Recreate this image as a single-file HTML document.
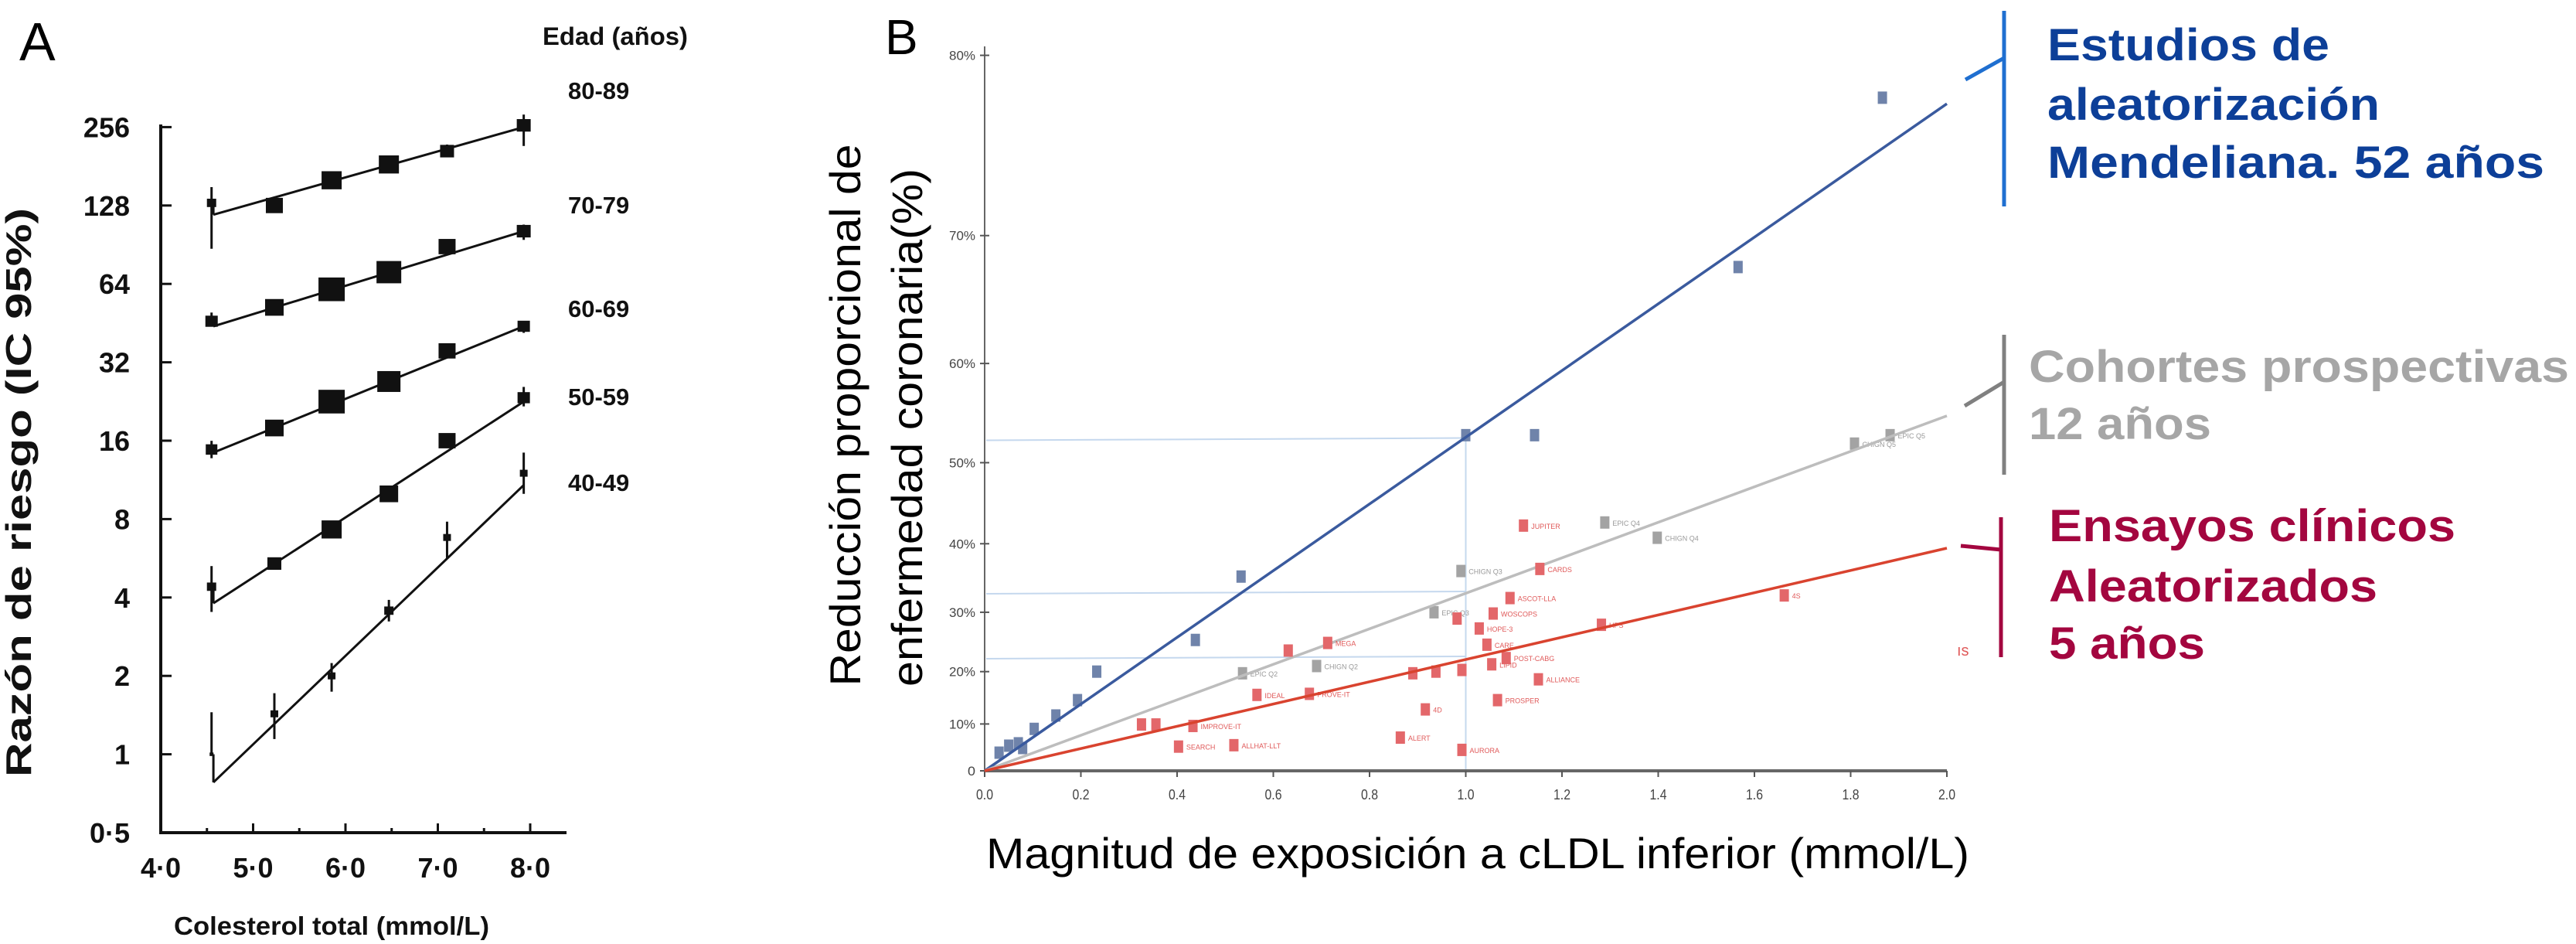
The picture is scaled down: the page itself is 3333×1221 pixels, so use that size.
<!DOCTYPE html>
<html><head><meta charset="utf-8"><style>
html,body{margin:0;padding:0;background:#fff;}
svg{display:block;}
</style></head><body>
<svg id="fig" width="3333" height="1221" viewBox="0 0 3333 1221" xmlns="http://www.w3.org/2000/svg">
<rect width="3333" height="1221" fill="#fff"/>
<g id="panelA"></g>
<g id="panelB"></g>
</svg>
<script>
// ---------- Panel A data ----------
const ageGroups = ["80-89","70-79","60-69","50-59","40-49"];
const cholX = [4.55, 5.23, 5.85, 6.47, 7.1, 7.93];
const hr8089 = [131, 128, 160, 184, 207, 260];
const hr7079 = [46, 52, 61, 71, 89, 102];
const hr6069 = [14.8, 17.9, 22.6, 27, 35.4, 44];
const hr5059 = [4.4, 5.4, 7.3, 10, 16, 23.4];
const hr4049 = [1.0, 1.43, 2.0, 3.56, 6.8, 12];
const fitStart = [118, 44, 14.4, 3.8, 0.78];
const fitEnd = [256, 102, 44, 22.6, 10.8];
const errLo = [[1.5,1,1,1,1,1.2],[1,1,1,1,1,1.08],[1.08,1,1,1,1,1.06],[1.25,1,1,1,1,1.08],[1.0,1.25,1.15,1.1,1.2,1.2]];
const errHi = [[1.15,1,1,1,1.06,1.1],[1.08,1,1,1,1,1.06],[1.08,1,1,1,1,1.04],[1.2,1.05,1,1,1,1.1],[1.45,1.2,1.12,1.1,1.15,1.2]];
const markSize = [[12,22,26,26,18,18],[16,24,34,32,22,18],[15,24,34,30,22,16],[12,18,26,24,22,16],[5,10,10,12,10,10]];
const yTicksA = [0.5,1,2,4,8,16,32,64,128,256];
const yTickLabelsA = ["0·5","1","2","4","8","16","32","64","128","256"];
const xTicksA = [4,5,6,7,8];
const xTickLabelsA = ["4·0","5·0","6·0","7·0","8·0"];
const ageLabelY = [128,276,410,524,635];

// ---------- Panel B data ----------
const mrX = [0.03,0.05,0.07,0.079,0.103,0.148,0.193,0.233,0.438,0.533,1.0,1.143,1.566,1.866];
const mrY = [4,5.5,6,5,9,11.7,14.7,20,25.5,35.4,53,53,67.8,78];
const mrLab = ["","","","","","","","","","","","","",""];
const coX = [0.536,0.69,0.934,0.99,1.289,1.398,1.808,1.882];
const coY = [19.7,21,30,36.2,42.8,40.8,52.1,53];
const coLab = ["EPIC Q2","CHIGN Q2","EPIC Q3","CHIGN Q3","EPIC Q4","CHIGN Q4","CHIGN Q5","EPIC Q5"];
const rcX = [0.326,0.356,0.403,0.433,0.518,0.566,0.631,0.675,0.713,0.864,0.89,0.916,0.938,0.982,0.992,0.992,1.028,1.044,1.057,1.054,1.066,1.084,1.092,1.12,1.151,1.154,1.282,1.662];
const rcY = [9.9,9.9,5.3,9.6,5.6,15.7,23.7,15.9,25,7.2,19.7,12.9,20,29,20.3,4.6,27.4,24.7,29.8,21.3,14.7,22.4,32.2,42.4,18.6,36.5,28,32.6];
const rcLab = ["","","SEARCH","IMPROVE-IT","ALLHAT-LLT","IDEAL","","PROVE-IT","MEGA","ALERT","","4D","","","","AURORA","HOPE-3","CARE","WOSCOPS","LIPID","PROSPER","POST-CABG","ASCOT-LLA","JUPITER","ALLIANCE","CARDS","HPS","4S"];
const fitEndB = [77.7, 55, 39.4];
const yTicksB = [0,10,20,30,40,50,60,70,80];
const yTickLabelsB = ["0","10%","20%","30%","40%","50%","60%","70%","80%"];
const xTicksB = [0,0.2,0.4,0.6,0.8,1.0,1.2,1.4,1.6,1.8,2.0];
const xTickLabelsB = ["0.0","0.2","0.4","0.6","0.8","1.0","1.2","1.4","1.6","1.8","2.0"];
const refLines = [52.7, 33.2, 22.7];

const NS = "http://www.w3.org/2000/svg";
function mk(parent, tag, attrs, txt){
  const e = document.createElementNS(NS, tag);
  for (const k in attrs) e.setAttribute(k, attrs[k]);
  if (txt !== undefined) e.textContent = txt;
  parent.appendChild(e);
  return e;
}

// ===== Panel A =====
const A = document.getElementById("panelA");
const ax = v => 208 + (v - 4) * 119.5;
const ay = v => 1077 - (Math.log2(v) + 1) * 101.4;
const FA = '"Liberation Sans", Arial, sans-serif';

let t = mk(A,"text",{x:25,y:78,"font-family":FA,"font-size":70,fill:"#000"},"A");



let l = mk(A,"path",{d:`M208 161 V1077 H733`,stroke:"#111","stroke-width":4,fill:"none"});



yTicksA.forEach((v,i)=>{
  const y = ay(v);
  const tk = mk(A,"line",{x1:208,x2:222,y1:y,y2:y,stroke:"#111","stroke-width":3});
  
  
  const lb = mk(A,"text",{x:168,y:y+13,"text-anchor":"end","font-family":FA,"font-weight":"bold","font-size":36,fill:"#111"},yTickLabelsA[i]);
  
  
});
for (let v=4.5; v<8.4; v+=0.5){
  const x = ax(v);
  const major = Math.abs(v - Math.round(v))<0.01;
  const tk = mk(A,"line",{x1:x,x2:x,y1:1077,y2:1077-(major?12:6),stroke:"#111","stroke-width":3});
  
  
}
xTicksA.forEach((v,i)=>{
  const lb = mk(A,"text",{x:ax(v),y:1135,"text-anchor":"middle","font-family":FA,"font-weight":"bold","font-size":36,fill:"#111"},xTickLabelsA[i]);
  
  
});
t = mk(A,"text",{x:225,y:1209,"font-family":FA,"font-weight":"bold","font-size":33,fill:"#111",textLength:408,lengthAdjust:"spacingAndGlyphs"},"Colesterol total (mmol/L)");


t = mk(A,"text",{x:0,y:0,transform:"translate(40,637) rotate(-90)","text-anchor":"middle","font-family":FA,"font-weight":"bold","font-size":46,fill:"#111",textLength:736,lengthAdjust:"spacingAndGlyphs"},"Razón de riesgo (IC 95%)");


t = mk(A,"text",{x:702,y:58,"font-family":FA,"font-weight":"bold","font-size":32,fill:"#111",textLength:188,lengthAdjust:"spacingAndGlyphs"},"Edad (años)");



const seriesA = [hr8089,hr7079,hr6069,hr5059,hr4049];
seriesA.forEach((vals,g)=>{
  const grp = mk(A,"g",{});
  
  
  const x0 = ax(4.57), x1 = ax(7.93);
  const fl = mk(grp,"line",{x1:x0,y1:ay(fitStart[g]),x2:x1,y2:ay(fitEnd[g]),stroke:"#111","stroke-width":3});
  
  
  vals.forEach((v,i)=>{
    const x = ax(cholX[i]), y = ay(v);
    const eb = mk(grp,"line",{x1:x,x2:x,y1:ay(v*errHi[g][i]),y2:ay(v/errLo[g][i]),stroke:"#111","stroke-width":3});
    
    
    const s = markSize[g][i];
    const r = mk(grp,"rect",{x:x-s/2,y:y-s*0.45,width:s,height:s*0.9,fill:"#111"});
    
    
  });
  // vertical drop at left (first point to line start)
  const dl = mk(grp,"line",{x1:ax(4.57),x2:ax(4.57),y1:ay(vals[0]),y2:ay(fitStart[g]),stroke:"#111","stroke-width":3});
  
  
  const lb = mk(A,"text",{x:735,y:ageLabelY[g],"font-family":FA,"font-weight":"bold","font-size":31,fill:"#111"},ageGroups[g]);
  
  
});

// ===== Panel B =====
const B = document.getElementById("panelB");
const bx = v => 1274 + v * 622.5;
const by = p => 997 + Math.log(1 - p/100) * 575;

t = mk(B,"text",{x:1145,y:70,"font-family":FA,"font-size":64,fill:"#000"},"B");



// ref lines
refLines.forEach(p=>{
  const r = mk(B,"line",{x1:1276,x2:bx(1.0),y1:by(p)+3,y2:by(p),stroke:"#c5d8ee","stroke-width":2});
  
  
});
let v = mk(B,"line",{x1:bx(1.0),x2:bx(1.0),y1:by(refLines[0]),y2:997,stroke:"#c5d8ee","stroke-width":2});



let yax = mk(B,"line",{x1:1274,x2:1274,y1:60,y2:997,stroke:"#666","stroke-width":2});


let xax = mk(B,"line",{x1:1274,x2:2519,y1:997,y2:997,stroke:"#666","stroke-width":4});



yTicksB.forEach((p,i)=>{
  const y = by(p);
  const tk = mk(B,"line",{x1:1268,x2:1280,y1:y,y2:y,stroke:"#555","stroke-width":2});
  
  
  const lb = mk(B,"text",{x:1262,y:y+6,"text-anchor":"end","font-family":FA,"font-size":17,fill:"#444",textLength:p===0?10:34,lengthAdjust:"spacingAndGlyphs"},yTickLabelsB[i]);
  
  
});
xTicksB.forEach((xv,i)=>{
  const x = bx(xv);
  const tk = mk(B,"line",{x1:x,x2:x,y1:997,y2:1005,stroke:"#555","stroke-width":2});
  
  
  const lb = mk(B,"text",{x:x,y:1034,"text-anchor":"middle","font-family":FA,"font-size":18,fill:"#444",textLength:22,lengthAdjust:"spacingAndGlyphs"},xTickLabelsB[i]);
  
  
});

t = mk(B,"text",{x:1276,y:1123,"font-family":FA,"font-size":56,fill:"#000",textLength:1272,lengthAdjust:"spacingAndGlyphs"},"Magnitud de exposición a cLDL inferior (mmol/L)");


t = mk(B,"text",{x:0,y:0,transform:"translate(1113,537) rotate(-90)","text-anchor":"middle","font-family":FA,"font-size":56,fill:"#000",textLength:701,lengthAdjust:"spacingAndGlyphs"},"Reducción proporcional de");


t = mk(B,"text",{x:0,y:0,transform:"translate(1193,553) rotate(-90)","text-anchor":"middle","font-family":FA,"font-size":56,fill:"#000",textLength:670,lengthAdjust:"spacingAndGlyphs"},"enfermedad coronaria(%)");



const seriesB = [
  {name:"mendelian", xs:mrX, ys:mrY, labs:mrLab, mc:"#6f83aa", lc:"#3a5a9e", tc:"#6f83aa", end:fitEndB[0]},
  {name:"cohort", xs:coX, ys:coY, labs:coLab, mc:"#a3a3a3", lc:"#bdbdbd", tc:"#999", end:fitEndB[1]},
  {name:"trials", xs:rcX, ys:rcY, labs:rcLab, mc:"#e3676a", lc:"#d9432f", tc:"#e05a5a", end:fitEndB[2]}
];
seriesB.forEach(s=>{
  const g = mk(B,"g",{});
  
  
  s.xs.forEach((xv,i)=>{
    const x = bx(xv), y = by(s.ys[i]);
    const r = mk(g,"rect",{x:x-6,y:y-8,width:12,height:16,fill:s.mc});
    
    
    if (s.labs[i]) {
      const lb = mk(g,"text",{x:x+10,y:y+4,"font-family":FA,"font-size":9,fill:s.tc},s.labs[i]);
      
      
    }
  });
  const fl = mk(g,"line",{x1:bx(0),y1:by(0),x2:bx(2.0),y2:by(s.end),stroke:s.lc,"stroke-width":3.5});
  
  
});

// ===== Legend brackets =====
const FL = '"Liberation Sans", Arial, sans-serif';
function bracket(name, color, path, lines, tcolor, x0, ys, widths){
  const g = mk(B,"g",{});
  
  
  const p = mk(g,"path",{d:path,stroke:color,"stroke-width":5,fill:"none"});
  
  
  lines.forEach((ln,i)=>{
    const tx = mk(g,"text",{x:x0,y:ys[i],"font-family":FL,"font-weight":"bold","font-size":58,fill:tcolor,textLength:widths[i],lengthAdjust:"spacingAndGlyphs"},ln);
    
    
  });
}
bracket("legend-mendelian","#1f6fd0","M2593 14 V267 M2543 103 L2593 75",
  ["Estudios de","aleatorización","Mendeliana.  52 años"],"#0d3f98",2649,[78,155,230],[365,430,643]);
bracket("legend-cohort","#808080","M2593 433 V614 M2542 525 L2593 494",
  ["Cohortes prospectivas","12 años"],"#a6a6a6",2625,[494,568],[699,236]);
bracket("legend-trials","#a3063f","M2589 669 V850 M2537 706 L2589 711",
  ["Ensayos clínicos","Aleatorizados","5 años"],"#a3063f",2651,[700,778,852],[526,425,202]);
t = mk(B,"text",{x:2532,y:848,"font-family":FA,"font-size":20,fill:"#e05a5a"},"ıs");


</script>
</body></html>
